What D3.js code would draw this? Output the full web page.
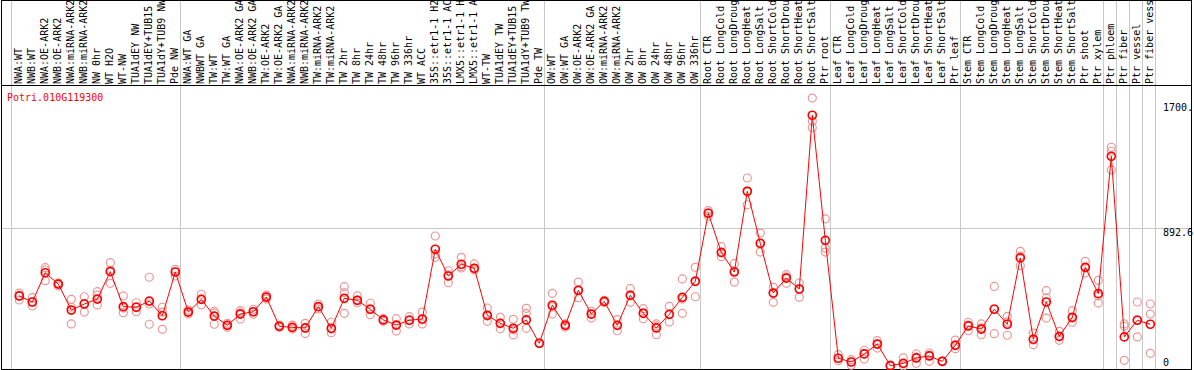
<!DOCTYPE html>
<html><head><meta charset="utf-8">
<script src="https://cdn.jsdelivr.net/npm/d3@7"></script>
<style>body{margin:0;background:#fff} svg{display:block}</style>
</head><body><svg id="c" width="1194" height="370"></svg>
<script>
const title = "Potri.010G119300";
const categories = ["NWA:WT","NWB:WT","NWA:OE-ARK2","NWB:OE-ARK2","NWA:miRNA-ARK2","NWB:miRNA-ARK2","NW 0hr","WT H2O","WT-NW","TUA1dEY NW","TUA1dEY+TUB15 NW","TUA1dY+TUB9 NW","Pde NW",
"NWA:WT GA","NWBWT GA","TW:WT","TW:WT GA","NWA:OE-ARK2 GA","NWB:OE-ARK2 GA","TW:OE-ARK2","TW:OE-ARK2 GA","NWA:miRNA-ARK2 GA","NWB:miRNA-ARK2 GA","TW:miRNA-ARK2","TW:miRNA-ARK2 GA","TW 2hr","TW 8hr","TW 24hr","TW 48hr","TW 96hr","TW 336hr","WT ACC","35S::etr1-1 H2O","35S::etr1-1 ACC","LMX5::etr1-1 H2O","LMX5::etr1-1 ACC","WT-TW","TUA1dEY TW","TUA1dEY+TUB15 TW","TUA1dY+TUB9 TW","Pde TW",
"OW:WT","OW:WT GA","OW:OE-ARK2","OW:OE-ARK2 GA","OW:miRNA-ARK2","OW:miRNA-ARK2 GA","OW 2hr","OW 8hr","OW 24hr","OW 48hr","OW 96hr","OW 336hr",
"Root CTR","Root LongCold","Root LongDrought","Root LongHeat","Root LongSalt","Root ShortCold","Root ShortDrought","Root ShortHeat","Root ShortSalt","Ptr root",
"Leaf CTR","Leaf LongCold","Leaf LongDrought","Leaf LongHeat","Leaf LongSalt","Leaf ShortCold","Leaf ShortDrought","Leaf ShortHeat","Leaf ShortSalt","Ptr leaf",
"Stem CTR","Stem LongCold","Stem LongDrought","Stem LongHeat","Stem LongSalt","Stem ShortCold","Stem ShortDrought","Stem ShortHeat","Stem ShortSalt","Ptr shoot","Ptr xylem",
"Ptr phloem","Ptr fiber","Ptr vessel","Ptr fiber vessel"];
const means = [453,414,603,530,362,401,433,610,384,380,420,325,608,
349,431,323,263,336,351,446,257,250,246,384,244,438,425,367,298,265,296,304,755,582,658,632,328,276,244,298,147,
393,263,490,336,418,263,457,341,246,334,444,548,
988,735,608,1130,794,472,569,498,1622,813,
50,26,78,142,2,17,52,65,30,134,
259,239,367,270,699,173,414,192,315,638,468,
1356,188,296,270];
const replicates = [[472,453,427],[442,388,414],[636,552,621],[535,517,537],[431,272,380],[448,349,405],[481,459,395],[668,535,621],[453,345,375],[409,351,382],[574,401,270],[380,237,349],[625,582,608],
[362,336,349],[464,395,433],[354,270,343],[276,250,265],[358,304,343],[367,336,351],[459,433,446],[265,250,257],[265,239,250],[276,211,246],[401,382,369],[283,215,239],[513,474,341],[453,409,427],[406,332,369],[306,289,298],[306,226,265],[319,272,298],[349,272,298],[841,703,724],[616,539,589],[703,642,634],[660,632,621],[375,289,323],[315,241,278],[302,201,233],[373,341,244],[147,147,147],
[470,336,382],[272,252,265],[543,442,485],[354,310,336],[418,410,425],[300,228,265],[500,412,459],[371,306,343],[272,202,259],[386,285,334],[563,341,433],[638,448,550],
[1005,970,990],[772,707,731],[662,543,615],[1216,1043,1132],[860,737,789],[509,412,472],[591,535,576],[537,444,498],[1733,1583,1541],[951,763,737],
[73,34,50],[41,5,26],[102,45,78],[164,116,142],[2,0,6],[52,0,17],[78,17,58],[84,30,71],[30,28,32],[168,112,136],
[283,228,265],[272,202,246],[515,209,369],[321,199,285],[742,649,711],[213,138,168],[487,310,440],[224,166,188],[358,283,310],[677,602,634],[554,407,453],
[1415,1389,1268],[272,257,37],[414,188,298],[401,336,82]];
const groupEnds = [12,40,52,62,72,83,84,85,86,87];
const yMax = 1785.2;
const yTickValues = [1700, 892.6, 0];
const yTickLabels = ["1700.", "892.6", "0"];
const gridValues = [892.6];

const svg = d3.select("#c");
const font = "'DejaVu Sans Mono', monospace";
const x = d3.scaleBand().domain(d3.range(categories.length)).range([11, 1155]).paddingInner(0).paddingOuter(0);
const px = i => x(i) + 8.3;
const y = d3.scaleLinear().domain([0, yMax]).range([366, 90]);

const grid = svg.append("g").attr("shape-rendering","crispEdges").attr("stroke","#c8c8c8").attr("stroke-width",1);
grid.append("line").attr("x1",Math.round(x(0))+0.5).attr("x2",Math.round(x(0))+0.5).attr("y1",0).attr("y2",369);
groupEnds.forEach(k=>{
  const gx = Math.round(x(k)+x.bandwidth())+0.5;
  grid.append("line").attr("x1",gx).attr("x2",gx).attr("y1",0).attr("y2",369);
});
gridValues.forEach(v=>{
  const gy = Math.round(y(v))+0.5;
  grid.append("line").attr("x1",1).attr("x2",1191).attr("y1",gy).attr("y2",gy);
});

// category labels
svg.append("g").selectAll("text").data(categories).join("text")
  .attr("transform",(d,i)=>`translate(${x(i)+10.8},84) rotate(-90)`)
  .attr("font-family",font).attr("font-size",10).attr("fill","#000")
  .text(d=>d);

// border & header line
svg.append("rect").attr("x",1.5).attr("y",0.5).attr("width",1190).attr("height",369)
  .attr("fill","none").attr("stroke","#000").attr("shape-rendering","crispEdges");
svg.append("line").attr("x1",1).attr("x2",1191).attr("y1",85.5).attr("y2",85.5)
  .attr("stroke","#000").attr("shape-rendering","crispEdges");

// title
svg.append("text").attr("x",7).attr("y",101).attr("font-family",font).attr("font-size",10)
  .attr("fill","#ff0000").text(title);

// right tick labels
svg.append("g").selectAll("text").data(yTickValues).join("text")
  .attr("x",1163).attr("y",(d,i)=> d===0 ? y(d) : y(d)+8)
  .attr("font-family",font).attr("font-size",10).attr("fill","#000")
  .text((d,i)=>yTickLabels[i]);

// replicates
const repData = [];
replicates.forEach((r,i)=>r.forEach(v=>repData.push({i,v})));
svg.append("g").selectAll("circle").data(repData).join("circle")
  .attr("cx",d=>px(d.i)).attr("cy",d=>y(d.v)).attr("r",4)
  .attr("fill","none").attr("stroke","rgb(238,150,150)").attr("stroke-width",1.2);

// line through means
svg.append("path").datum(means)
  .attr("d", d3.line().x((d,i)=>px(i)).y(d=>y(d)))
  .attr("fill","none").attr("stroke","#ff0000").attr("stroke-width",1);

// mean markers
svg.append("g").selectAll("circle").data(means).join("circle")
  .attr("cx",(d,i)=>px(i)).attr("cy",d=>y(d)).attr("r",4)
  .attr("fill","none").attr("stroke","#ff0000").attr("stroke-width",1.7);
</script></body></html>
